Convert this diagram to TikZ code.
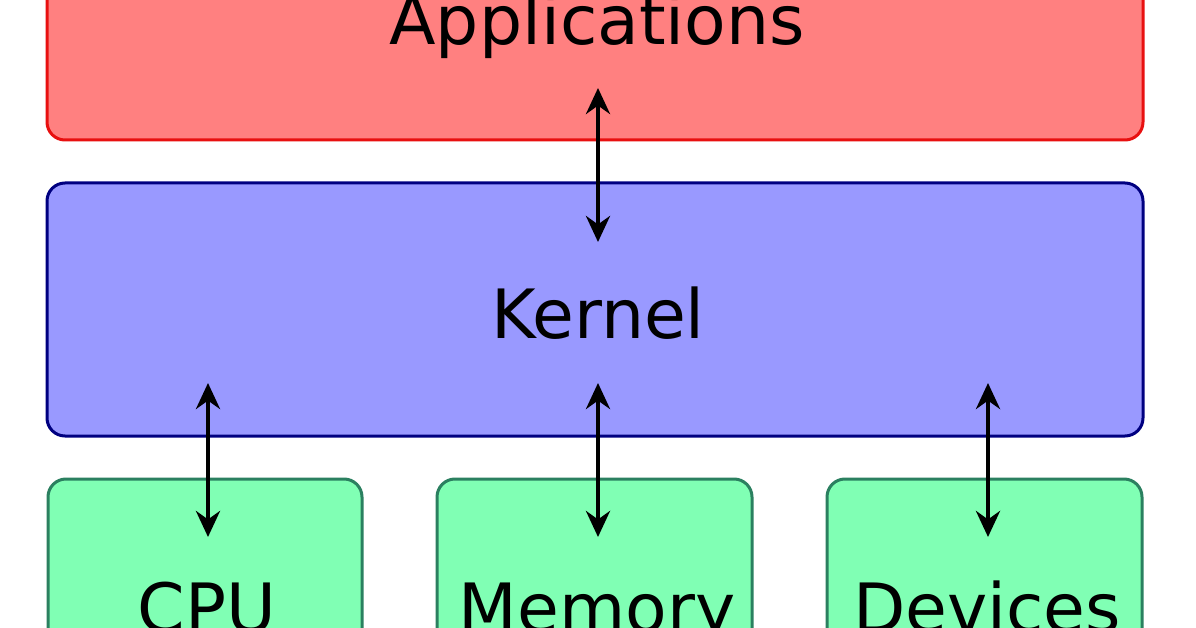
\documentclass[tikz,border=0pt]{standalone}
\usepackage{fontspec}
\setmainfont{DejaVu Sans}
\usetikzlibrary{arrows.meta}
\definecolor{appf}{HTML}{FF8080}\definecolor{appd}{HTML}{E81010}
\definecolor{kerf}{HTML}{9999FF}\definecolor{kerd}{HTML}{000080}
\definecolor{hwf}{HTML}{80FFB4}\definecolor{hwd}{HTML}{2B8060}
\tikzset{
 box/.style={draw, line width=3pt, rounded corners=18pt},
 lbl/.style={font=\fontsize{68}{74}\selectfont, anchor=base, inner sep=0pt},
 arr/.style={line width=4.5pt, {Stealth[length=26pt,width=24pt]}-{Stealth[length=26pt,width=24pt]}}
}
\begin{document}
\begin{tikzpicture}[x=1pt,y=-1pt]
\useasboundingbox (0,0) rectangle (1196,628);
\fill[white] (0,0) rectangle (1196,628);
\clip (0,0) rectangle (1196,628);
\path[box, draw=appd, fill=appf] (47,-60) rectangle (1143,140);
\path[box, draw=kerd, fill=kerf] (47,183) rectangle (1143,436);
\path[box, draw=hwd, fill=hwf] (48,479) rectangle (362,720);
\path[box, draw=hwd, fill=hwf] (437,479) rectangle (752,720);
\path[box, draw=hwd, fill=hwf] (827,479) rectangle (1142,720);
\node[lbl] (app) at (597,45) {Applications};
\node[lbl] (ker) at (598,338) {Kernel};
\node[lbl] (cpu) at (207,632) {CPU};
\node[lbl] (mem) at (597,632) {Memory};
\node[lbl] (dev) at (987,632) {Devices};
\coordinate (a1) at (598,88); \coordinate (k1) at (598,242);
\coordinate (k2) at (208,383); \coordinate (c1) at (208,537);
\coordinate (k3) at (598,383); \coordinate (m1) at (598,537);
\coordinate (k4) at (988,383); \coordinate (d1) at (988,537);
\draw[arr] (a1) -- (k1);
\draw[arr] (k2) -- (c1);
\draw[arr] (k3) -- (m1);
\draw[arr] (k4) -- (d1);
\end{tikzpicture}
\end{document}
